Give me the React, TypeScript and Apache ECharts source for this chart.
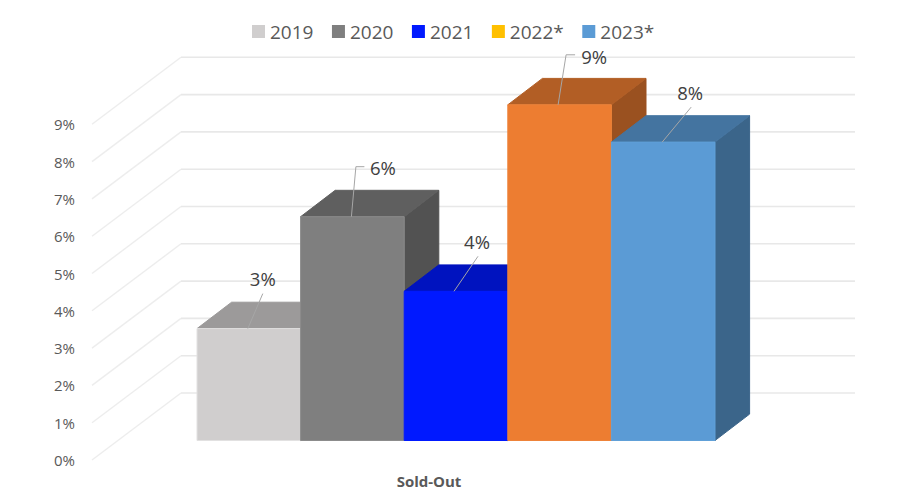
import React, { useEffect, useRef } from "react";
import * as echarts from "echarts";

const categories = ["Sold-Out"];
const yearNames = ["2019", "2020", "2021", "2022*", "2023*"];
const yearValues = [3, 6, 4, 9, 8];
const yTicks = [0, 1, 2, 3, 4, 5, 6, 7, 8, 9];

const legendColors = ["#D0CECE", "#7F7F7F", "#0019FF", "#FFC000", "#5B9BD5"];
const frontColors = ["#D0CECE", "#7F7F7F", "#0019FF", "#ED7D31", "#5B9BD5"];
const frontEdges = ["#E2E1E1", "#8C8C8C", "#0019FF", "#EE8339", "#60A0D8"];
const topColors = ["#9C9A9A", "#5F5F5F", "#0013BF", "#B25E25", "#4474A0"];
const sideColors = ["#8E8C8C", "#525252", "#0010A5", "#9A5120", "#3B658A"];

// Oblique projection of the chart's depth, in pixels
const WALL_DX = 89;
const WALL_DY = -67;
const BAR_FRONT_DX = 27;
const BAR_FRONT_DY = -19.5;
const BAR_DEPTH_DX = 34.6;
const BAR_DEPTH_DY = -26.4;
const CLUSTER_RATIO = 518 / 674;

// Leader lines and labels, relative to the top-front edge centre of each bar
const leaderShift = [-1, -1, -2, -1.5, -1];
const leaderBends = [
  [[15, -35]],
  [[4.5, -50], [13, -50]],
  [[24, -35]],
  [[8, -50], [17, -50]],
  [[29, -35]],
];
const labelOffsets = [
  [15, -50],
  [31.5, -49.5],
  [23, -49.5],
  [36, -48.5],
  [28, -49.5],
];

const FONT = "'Open Sans', 'Noto Sans', sans-serif";

function wallItem(params: any, api: any) {
  const [x0, y0] = api.coord([0, api.value(1)]);
  const half = api.size([1, 0])[0] / 2;
  const left = x0 - half;
  const right = x0 + half;
  return {
    type: "group",
    children: [
      {
        type: "line",
        shape: { x1: left, y1: y0, x2: left + WALL_DX, y2: y0 + WALL_DY },
        style: { stroke: "#EDEDED", lineWidth: 1.4 },
      },
      {
        type: "line",
        shape: { x1: left + WALL_DX, y1: y0 + WALL_DY, x2: right + WALL_DX, y2: y0 + WALL_DY },
        style: { stroke: "#E8E8E8", lineWidth: 1.6 },
      },
    ],
  };
}

function barItem(index: number) {
  return (params: any, api: any) => {
    const value = api.value(1);
    const [cx, yTop0] = api.coord([0, value]);
    const [, yBase0] = api.coord([0, 0]);
    const band = api.size([1, 0])[0];
    const barW = (band * CLUSTER_RATIO) / yearNames.length;
    const x1 = cx + BAR_FRONT_DX + (index - yearNames.length / 2) * barW;
    const x2 = x1 + barW;
    const yTop = yTop0 + BAR_FRONT_DY;
    const yBase = yBase0 + BAR_FRONT_DY;
    const dx = BAR_DEPTH_DX;
    const dy = BAR_DEPTH_DY;
    const ax = (x1 + x2) / 2 + leaderShift[index];
    const points = [[ax, yTop], ...leaderBends[index].map(([a, b]) => [ax + a, yTop + b])];
    const lab = labelOffsets[index];
    return {
      type: "group",
      children: [
        {
          type: "polygon",
          shape: { points: [[x2, yTop], [x2 + dx, yTop + dy], [x2 + dx, yBase + dy], [x2, yBase]] },
          style: { fill: sideColors[index], stroke: sideColors[index], lineWidth: 1 },
        },
        {
          type: "polygon",
          shape: { points: [[x1, yTop], [x1 + dx, yTop + dy], [x2 + dx, yTop + dy], [x2, yTop]] },
          style: { fill: topColors[index], stroke: topColors[index], lineWidth: 1 },
        },
        {
          type: "rect",
          shape: { x: x1, y: yTop, width: barW, height: yBase - yTop },
          style: { fill: frontColors[index], stroke: frontEdges[index], lineWidth: 1 },
        },
        {
          type: "polyline",
          shape: { points },
          style: { fill: "none", stroke: "#A6A6A6", lineWidth: 1 },
        },
        {
          type: "text",
          style: {
            text: `${value}%`,
            x: ax + lab[0],
            y: yTop + lab[1],
            align: "center",
            verticalAlign: "middle",
            textAlign: "center",
            textVerticalAlign: "middle",
            fontSize: 18.5,
            fontFamily: FONT,
            fill: "#404040",
          },
        },
      ],
    };
  };
}

export default function App() {
  const ref = useRef<HTMLDivElement>(null);
  useEffect(() => {
    const chart = echarts.init(ref.current!, undefined, { renderer: "svg" });
    chart.setOption({
      animation: false,
      backgroundColor: "#FFFFFF",
      grid: { left: 92, top: 124.3, width: 674, height: 335.7, containLabel: false },
      legend: {
        left: 247,
        top: 17,
        itemWidth: 13,
        itemHeight: 13,
        itemGap: 18.5,
        selectedMode: false,
        textStyle: { fontFamily: FONT, fontSize: 19, color: "#595959", padding: [0, 0, 0, 0] },
        data: yearNames.map((name, i) => ({
          name,
          icon: "rect",
          itemStyle: { color: legendColors[i] },
        })),
      },
      xAxis: {
        type: "category",
        data: categories,
        axisLine: { show: false },
        axisTick: { show: false },
        axisLabel: {
          margin: 13,
          fontFamily: FONT,
          fontSize: 15,
          fontWeight: "bold",
          color: "#595959",
        },
      },
      yAxis: {
        type: "value",
        min: 0,
        max: 9,
        interval: 1,
        axisLine: { show: false },
        axisTick: { show: false },
        splitLine: { show: false },
        axisLabel: {
          margin: 17,
          formatter: "{value}%",
          fontFamily: FONT,
          fontSize: 15,
          color: "#595959",
        },
      },
      series: [
        {
          type: "custom",
          name: "walls",
          z: 1,
          silent: true,
          encode: { x: 0, y: 1 },
          data: yTicks.map((t) => [0, t]),
          renderItem: wallItem,
        },
        ...yearNames.map((name, i) => ({
          type: "custom",
          name,
          z: 2 + i,
          silent: true,
          encode: { x: 0, y: 1 },
          itemStyle: { color: legendColors[i] },
          data: [[0, yearValues[i]]],
          renderItem: barItem(i),
        })),
      ],
    });
    return () => chart.dispose();
  }, []);
  return (
    <div
      ref={ref}
      style={{ position: "absolute", left: 0, top: 0, width: 900, height: 504 }}
    />
  );
}
